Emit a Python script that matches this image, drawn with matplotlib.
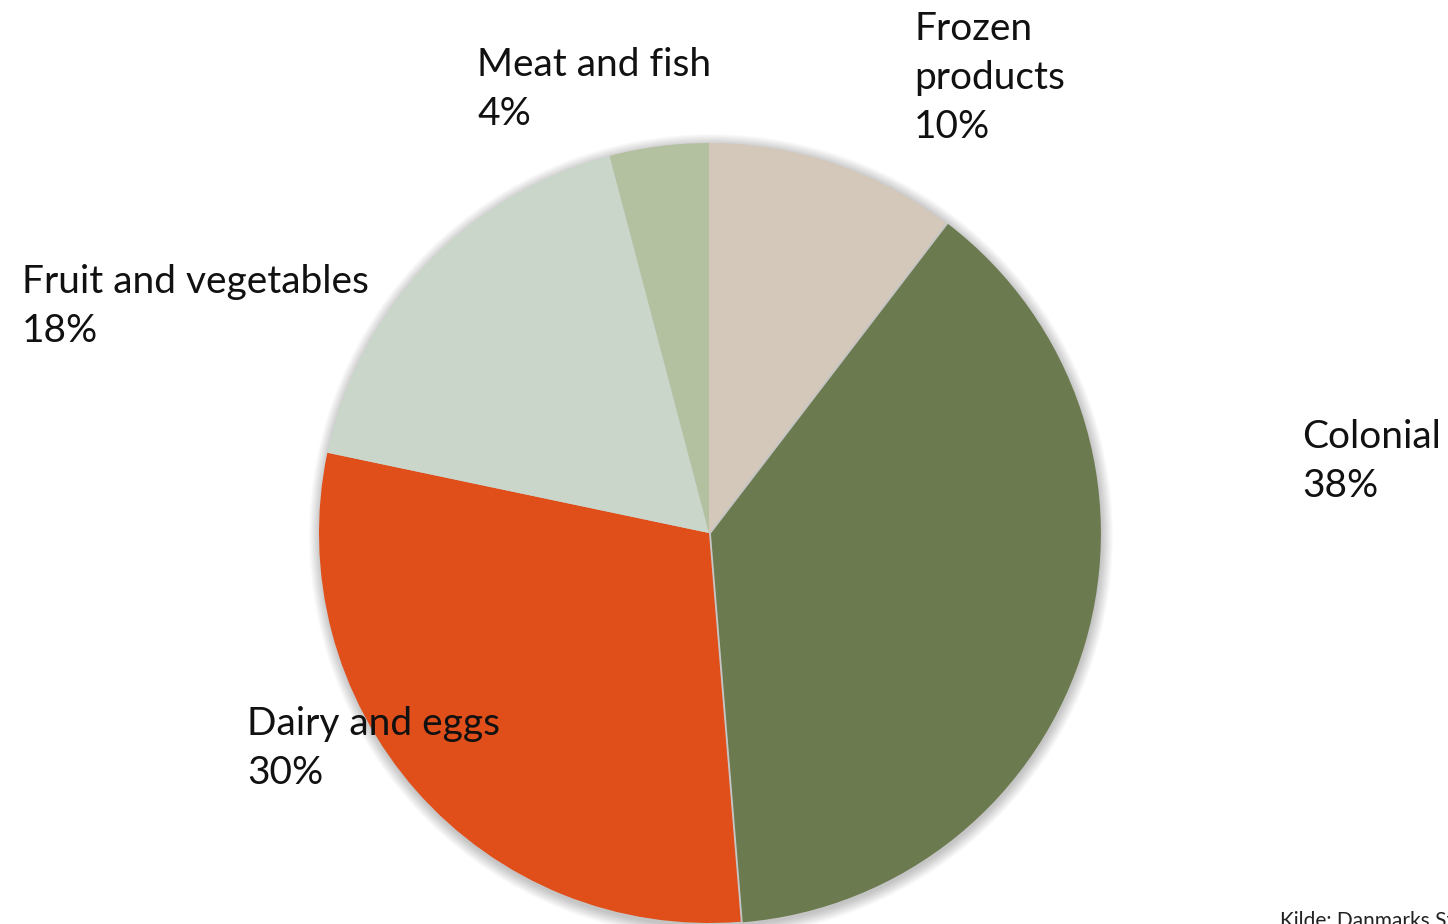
import matplotlib.pyplot as plt
from matplotlib.patches import Circle

plt.rcParams['font.family'] = ['Lato', 'DejaVu Sans']

categories = ['Frozen\nproducts', 'Colonial', 'Dairy and eggs', 'Fruit and vegetables', 'Meat and fish']
shares = [10.4, 38.3, 29.6, 17.6, 4.1]
pct_labels = ['10%', '38%', '30%', '18%', '4%']
colors = ['#d4c8ba', '#6b7a4f', '#e04e1a', '#cbd6ca', '#b4c1a1']

W, H = 1448, 924
fig = plt.figure(figsize=(W / 100, H / 100), dpi=100)
ax = fig.add_axes([0, 0, 1, 1])

cx, cy, r = 709, H - 533, 390

# soft shadow behind the pie
for i in range(10):
    ax.add_patch(Circle((cx + 2, cy - 3), r + 1 + i * 1.2, color='#000000',
                        alpha=0.025, lw=0, zorder=0))

ax.pie(shares, colors=colors, startangle=90, counterclock=False,
       center=(cx, cy), radius=r, explode=[0, 2, 0, 0, 0],
       wedgeprops=dict(linewidth=0), frame=True)
ax.set_xlim(0, W)
ax.set_ylim(0, H)
ax.set_aspect('equal')
ax.axis('off')

# label anchor positions (left edge, top of text) in pixels from top-left
label_pos = [(914, 11), (1302, 419), (247, 706), (22, 264), (477, 47)]
for name, pct, (x, y) in zip(categories, pct_labels, label_pos):
    ax.text(x, H - y, name + '\n' + pct, fontsize=28, ha='left', va='top',
            linespacing=1.45, color='#111111')

ax.text(1280, H - 911, 'Kilde: Danmarks Statistik', fontsize=15, ha='left',
        va='top', color='#222222')

fig.savefig('out.png', dpi=100)
